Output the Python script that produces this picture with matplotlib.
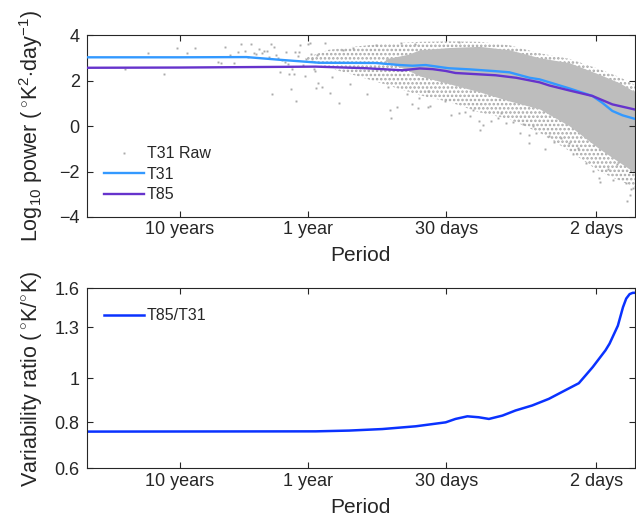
import numpy as np
import matplotlib
matplotlib.use("Agg")
import matplotlib.pyplot as plt
from matplotlib.lines import Line2D

plt.rcParams['font.family'] = ['Liberation Sans', 'DejaVu Sans']
plt.rcParams['mathtext.fontset'] = 'custom'
plt.rcParams['mathtext.rm'] = 'Liberation Sans'
plt.rcParams['mathtext.it'] = 'Liberation Sans'
plt.rcParams['hatch.linewidth'] = 1.2

INK = '#262626'
RAW = '#bdbdbd'

# smoothed spectra, period in days -> log10 power
t31_period = [19600, 3650, 1100, 570, 294, 107, 69.5, 55, 43.5, 28.8, 19.7, 12.3, 9.6,
              6.68, 5.58, 4.67, 3.25, 2.15, 1.80, 1.50, 1.25, 1.01]
t31_power = [3.02, 3.02, 3.03, 2.90, 2.78, 2.77, 2.68, 2.65, 2.68, 2.54, 2.49, 2.41, 2.36,
             2.12, 2.05, 1.92, 1.65, 1.32, 1.02, 0.66, 0.47, 0.32]

t85_period = [19600, 3650, 316, 128, 66, 48.4, 38.4, 30.3, 25.4, 12.3, 8.5, 5.58, 4.67,
              3.25, 2.15, 1.50, 1.01]
t85_power = [2.56, 2.57, 2.61, 2.54, 2.45, 2.53, 2.50, 2.42, 2.33, 2.23, 2.12, 1.92, 1.78,
             1.56, 1.32, 0.95, 0.73]

# raw T31 periodogram: dense body of the cloud (upper / lower edge)
dense_period = [90, 60, 48.4, 28.2, 16.5, 9.6, 5.58, 3.25, 1.90, 1.32, 1.0]
dense_hi = [2.95, 3.15, 3.35, 3.45, 3.5, 3.35, 3.0, 2.78, 2.27, 1.9, 1.5]
dense_lo = [2.85, 2.45, 2.2, 1.85, 1.5, 1.1, 0.75, 0.0, -1.0, -1.6, -2.05]

# thinner speckled part around it
spread_period = [380, 250, 150, 99.5, 48.4, 28.2, 16.5, 9.6, 5.58, 3.25, 1.90, 1.32, 1.0]
spread_hi = [3.0, 3.35, 3.5, 3.6, 3.7, 3.72, 3.7, 3.55, 3.2, 2.95, 2.5, 2.15, 1.8]
spread_lo = [2.9, 2.55, 2.2, 1.9, 1.35, 1.05, 0.6, 0.3, -0.3, -1.1, -2.0, -2.4, -2.7]

# single raw estimates outside the body
raw_period = [9840, 6460, 4875, 3880, 3236, 2773, 1832, 1754, 1614, 1485, 1381, 1285, 1211,
              1132, 1074, 1016, 963, 918, 875, 834, 805, 766, 739, 713, 688, 664, 640, 622,
              603, 578, 554, 535, 522, 507, 492, 480, 469, 458, 447, 434, 426, 416, 399, 383,
              373, 360, 352, 344, 335, 323, 317, 311, 314, 301,
              284, 245, 207, 235, 169, 126, 85.7, 83.2, 80.7, 73.0, 61.0, 55.7, 50.0, 49.4,
              41.8, 41.8, 268, 193, 161, 106, 67.5, 53.1,
              23.9, 27.4, 23.9, 21.5, 19.7, 18.5, 16.4, 16.7, 15.5, 13.3, 11.8, 11.1, 10.2,
              9.0, 7.9, 7.5, 6.7, 6.8, 6.3, 30.9, 40.5,
              5.1, 4.27, 3.78, 3.30, 3.06, 2.80, 2.41, 2.11, 1.87, 1.90, 1.63, 1.49, 1.39,
              1.17, 1.10, 1.07, 1.03, 5.9, 4.67, 1.15]
raw_power = [2.49, 3.20, 2.30, 3.44, 3.22, 3.43, 2.80, 2.76, 3.47, 3.12, 2.78, 3.27, 3.60,
             3.30, 3.05, 3.59, 3.22, 3.15, 3.40, 3.20, 3.28, 3.31, 3.05, 3.60, 1.41, 3.47,
             3.11, 3.00, 2.39, 2.90, 2.83, 3.25, 2.73, 2.27, 1.61, 2.52, 2.29, 3.27, 1.11,
             3.08, 3.25, 3.55, 2.67, 2.18, 2.93, 3.59, 3.64, 3.15, 2.93, 2.52, 2.42, 3.12,
             1.67, 1.90,
             1.73, 1.46, 1.03, 2.14, 1.83, 1.41, 1.73, 0.70, 0.34, 0.84, 1.39, 0.95, 0.79,
             1.24, 0.85, 1.54, 3.66, 3.34, 3.44, 3.55, 3.64, 3.59,
             3.71, 0.48, 0.58, 0.62, 0.44, 0.70, -0.18, 0.22, 0.03, 0.22, 0.37, 0.58, 0.12,
             0.18, -0.29, 0.07, -0.41, -0.76, 0.0, 1.10, 0.88,
             -1.02, -0.70, -0.51, -0.76, -1.24, -0.95, -1.61, -1.98, -2.46, -2.27, -1.90,
             -2.37, -1.68, -2.49, -3.05, -2.78, -2.71, -0.29, -0.44, -3.30]

# T85/T31 variability ratio
ratio_period = [19600, 316, 173, 95, 52, 30.3, 25.4, 20.5, 16.7, 13.9, 10.9, 8.6, 6.37,
                4.72, 3.35, 2.75, 2.44, 2.14, 1.70, 1.58, 1.36, 1.24, 1.17, 1.10, 1.04, 1.01]
ratio = [0.762, 0.763, 0.766, 0.772, 0.783, 0.799, 0.813, 0.824, 0.820, 0.813, 0.827,
         0.849, 0.871, 0.901, 0.948, 0.976, 1.015, 1.06, 1.155, 1.195, 1.31, 1.44, 1.505,
         1.54, 1.55, 1.55]

tick_period = [3652.5, 365.25, 30, 2]
tick_names = ['10 years', '1 year', '30 days', '2 days']


def freq(p):
    return 1.0 / np.asarray(p, dtype=float)


def style_axes(ax):
    ax.set_xscale('log')
    ax.set_xlim(1 / 19600, 1.0)
    ax.set_xticks(freq(tick_period))
    ax.set_xticklabels(tick_names)
    ax.xaxis.set_minor_locator(matplotlib.ticker.NullLocator())
    ax.tick_params(direction='in', top=True, right=True, length=4, width=0.8,
                   colors=INK, labelsize=13)
    ax.tick_params(axis='x', pad=3)
    ax.tick_params(axis='y', pad=5)
    for s in ax.spines.values():
        s.set_color(INK)
        s.set_linewidth(0.8)
    ax.set_xlabel('Period', fontsize=15, color=INK, labelpad=6)


fig = plt.figure(figsize=(6.36, 5.21), dpi=100)
ax1 = fig.add_axes([0.1363, 0.5835, 0.862, 0.3493])
ax2 = fig.add_axes([0.1363, 0.1008, 0.862, 0.3455])

# top panel: spectra
ax1.fill_between(freq(spread_period), spread_lo, spread_hi, facecolor='none',
                 edgecolor='#a8a8a8', hatch='....', lw=0, zorder=1)
ax1.fill_between(freq(dense_period), dense_lo, dense_hi, color=RAW, lw=0, zorder=1)
ax1.plot(freq(raw_period), raw_power, ls='none', marker='s', ms=1.4, mew=0,
         color='#aaaaaa', zorder=2)
ax1.plot(freq(t31_period), t31_power, color='#3399ff', lw=1.7, zorder=3)
ax1.plot(freq(t85_period), t85_power, color='#6633cc', lw=1.7, zorder=3)
style_axes(ax1)
ax1.set_ylim(-4, 4)
ax1.set_yticks([-4, -2, 0, 2, 4])
ax1.set_ylabel(r'Log$_{10}$ power ($\,^{\circ}$K$^{2}$$\cdot$day$^{-1}$)', fontsize=15.5,
               color=INK, labelpad=10)

handles = [Line2D([], [], ls='none', marker='s', ms=1.4, mew=0, color='#aaaaaa'),
           Line2D([], [], color='#3399ff', lw=1.7),
           Line2D([], [], color='#6633cc', lw=1.7)]
ax1.legend(handles, ['T31 Raw', 'T31', 'T85'], loc='center left',
           bbox_to_anchor=(0.005, 0.235), frameon=False, fontsize=11.5,
           handlelength=2.5, handletextpad=0.2, labelspacing=0.35, labelcolor=INK)

# bottom panel: ratio
ax2.plot(freq(ratio_period), ratio, color='#0a32ff', lw=1.8, label='T85/T31')
ax2.set_yscale('log')
style_axes(ax2)
ax2.set_ylim(10 ** -0.2, 10 ** 0.2)
ax2.yaxis.set_minor_locator(matplotlib.ticker.NullLocator())
ax2.set_yticks([10 ** -0.2, 0.8, 1.0, 1.3, 10 ** 0.2])
ax2.set_yticklabels(['0.6', '0.8', '1', '1.3', '1.6'])
ax2.set_ylabel(r'Variability ratio ($\,^{\circ}$K/$^{\circ}$K)', fontsize=15.5, color=INK,
               labelpad=8)
ax2.legend(loc='upper left', bbox_to_anchor=(0.005, 0.97), frameon=False, fontsize=11.5,
           handlelength=2.5, handletextpad=0.2, labelcolor=INK)

fig.savefig('out.png', dpi=100)
